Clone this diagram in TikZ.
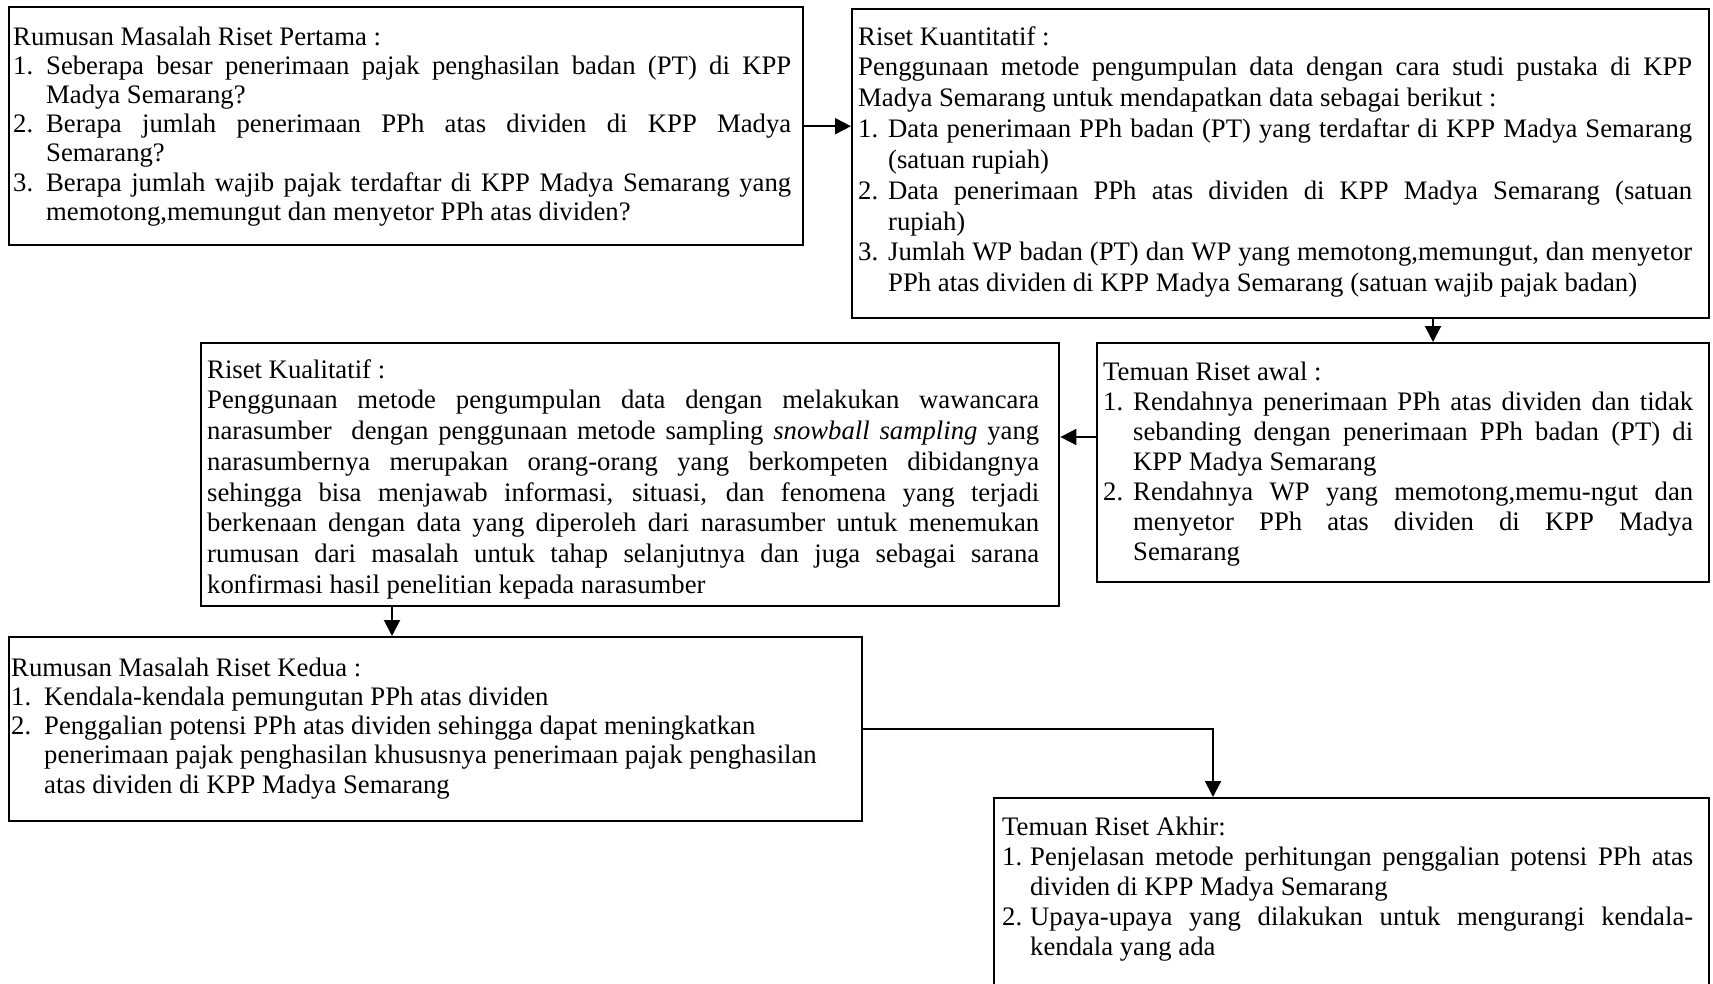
\documentclass[tikz,border=0pt]{standalone}
\usepackage{fontspec}
\setmainfont{Liberation Serif}
\usetikzlibrary{arrows.meta,calc}

% #1 left pad, #2 text width, #3 right pad, #4 box height, #5 baselineskip, #6 first baseline offset, #7 body
\newcommand\boxbody[7]{\hbox{\kern#1\vbox to #4{\hsize=#2\relax
  \fontsize{13.35pt}{#5}\selectfont
  \parindent=0pt \parskip=0pt \leftskip=0pt
  \tolerance=10000 \pretolerance=-1 \hyphenpenalty=10000 \exhyphenpenalty=10000
  \vskip\dimexpr#6-\ht\strutbox\relax
  \strut#7\par\vss}\kern#3}}
\newcommand\itm[2]{\par\hangindent=#1\relax\hangafter=1\noindent\hbox to #1{#2\hfil}\ignorespaces}

\begin{document}
\begin{tikzpicture}[x=0.5pt,y=-0.5pt,
  box/.style={draw, line width=1.2pt, inner sep=0pt, anchor=north west},
  arr/.style={line width=1pt, -{Triangle[length=8pt,width=8pt]}}]
\useasboundingbox (0,0) rectangle (1713,984);

\node[box] (b1) at (8,6) {\boxbody{2pt}{389pt}{6pt}{119pt}{14.6pt}{19pt}{%
Rumusan Masalah Riset Pertama :
\itm{16.5pt}{1.}Seberapa besar penerimaan pajak penghasilan badan (PT) di KPP \linebreak Madya Semarang?
\itm{16.5pt}{2.}Berapa jumlah penerimaan PPh atas dividen di KPP Madya \linebreak Semarang?
\itm{16.5pt}{3.}Berapa jumlah wajib pajak terdaftar di KPP Madya Semarang yang \linebreak memotong,memungut dan menyetor PPh atas dividen?}};

\node[box] (b2) at (851,8) {\boxbody{3pt}{417pt}{8.5pt}{154.5pt}{15.4pt}{18pt}{%
Riset Kuantitatif :\par
Penggunaan metode pengumpulan data dengan cara studi pustaka di KPP \linebreak Madya Semarang untuk mendapatkan data sebagai berikut :
\itm{15pt}{1.}Data penerimaan PPh badan (PT) yang terdaftar di KPP Madya Semarang \linebreak (satuan rupiah)
\itm{15pt}{2.}Data penerimaan PPh atas dividen di KPP Madya Semarang (satuan \linebreak rupiah)
\itm{15pt}{3.}Jumlah WP badan (PT) dan WP yang memotong,memungut, dan menyetor \linebreak PPh atas dividen di KPP Madya Semarang (satuan wajib pajak badan)}};

\node[box] (b3) at (1096,342) {\boxbody{3pt}{295pt}{8pt}{119.5pt}{15pt}{18.5pt}{%
Temuan Riset awal :
\itm{15pt}{1.}Rendahnya penerimaan PPh atas dividen dan tidak \linebreak sebanding dengan penerimaan PPh badan (PT) di \linebreak KPP Madya Semarang
\itm{15pt}{2.}Rendahnya WP yang memotong,memu-ngut dan \linebreak menyetor PPh atas dividen di KPP Madya \linebreak Semarang}};

\node[box] (bk) at (200,342) {\boxbody{3pt}{416pt}{10pt}{131.5pt}{15.35pt}{17.5pt}{%
Riset Kualitatif :\par
Penggunaan metode pengumpulan data dengan melakukan wawancara \linebreak narasumber\ \ dengan penggunaan metode sampling \textit{snowball sampling} yang \linebreak narasumbernya merupakan orang-orang yang berkompeten dibidangnya \linebreak sehingga bisa menjawab informasi, situasi, dan fenomena yang terjadi \linebreak berkenaan dengan data yang diperoleh dari narasumber untuk menemukan \linebreak rumusan dari masalah untuk tahap selanjutnya dan juga sebagai sarana \linebreak konfirmasi hasil penelitian kepada narasumber}};

\node[box] (b4) at (8,636) {\boxbody{1pt}{414pt}{11.5pt}{92pt}{14.6pt}{19.5pt}{%
\rightskip=0pt plus 1fil
Rumusan Masalah Riset Kedua :
\itm{16.5pt}{1.}Kendala-kendala pemungutan PPh atas dividen
\itm{16.5pt}{2.}Penggalian potensi PPh atas dividen sehingga dapat meningkatkan \newline penerimaan pajak penghasilan khususnya penerimaan pajak penghasilan \newline atas dividen di KPP Madya Semarang}};

\node[box] (b5) at (993,797) {\boxbody{4pt}{345.5pt}{8pt}{125pt}{15pt}{18.5pt}{%
Temuan Riset Akhir:
\itm{14pt}{1.}Penjelasan metode perhitungan penggalian potensi PPh atas \linebreak dividen di KPP Madya Semarang
\itm{14pt}{2.}Upaya-upaya yang dilakukan untuk mengurangi kendala-\linebreak kendala yang ada}};

\coordinate (c2) at (1433,0);
\coordinate (c3) at (0,437);
\coordinate (c4) at (392,0);
\coordinate (c5) at (1213,0);

\draw[arr] (b1.east) -- (b1.east -| b2.west);
\draw[arr] (c2 |- b2.south) -- (c2 |- b3.north);
\draw[arr] (c3 -| b3.west) -- (c3 -| bk.east);
\draw[arr] (c4 |- bk.south) -- (c4 |- b4.north);
\draw[arr] (b4.east) -| (c5 |- b5.north);
\end{tikzpicture}
\end{document}
